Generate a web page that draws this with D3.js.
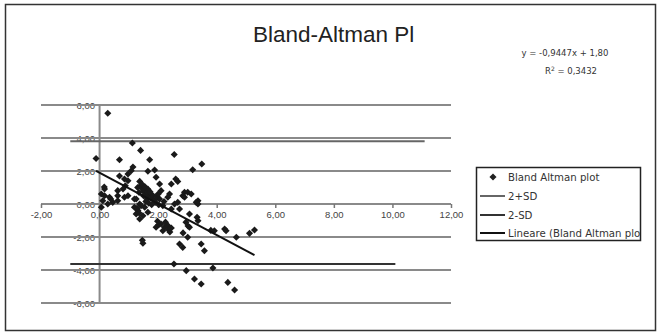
<!DOCTYPE html>
<html>
<head>
<meta charset="utf-8">
<script src="https://cdn.jsdelivr.net/npm/d3@7"></script>
<style>
  body { margin: 0; background: #fff; }
  svg { display: block; font-family: "DejaVu Sans", Arial, sans-serif; }
</style>
</head>
<body>
<div id="chart"></div>
<script>
// difference plot values: [mean, difference]
const points = [
  [0.28,5.50],[-0.12,2.76],[1.12,3.70],[1.40,3.25],[0.68,2.68],[1.71,2.68],[2.55,3.00],[3.49,2.42],[3.18,2.08],
  [1.14,2.24],[1.08,2.02],[0.97,1.82],[1.88,2.06],[1.65,1.98],[0.68,1.70],[0.85,1.52],[1.93,1.62],[2.05,1.21],
  [1.37,1.37],[2.67,1.37],[2.60,1.52],[2.45,1.21],[0.16,1.03],[0.88,1.11],
  [0.17,0.91],[0.62,0.81],[0.80,0.91],[0.34,0.41],[0.06,0.61],[2.90,0.71],[3.13,0.61],[2.39,0.61],[2.10,0.81],
  [3.01,0.71],[2.84,0.50],[3.36,0.20],[0.11,0.20],[0.85,0.41],[0.06,-0.20],[0.17,0.50],[0.28,0.00],[0.45,0.10],
  [0.62,0.50],[0.97,1.41],[1.25,0.30],[1.37,0.00],[2.05,0.30],[2.16,-0.10],[3.30,0.10],[0.38,0.30],
  [0.62,0.20],[1.19,-0.20],[1.31,-0.40],[1.37,-0.91],[1.48,-0.71],[1.54,-0.20],[1.65,-0.50],[1.48,-2.38],[1.46,-2.20],
  [2.10,-1.21],[2.22,-1.41],[2.16,-1.62],[2.33,-1.31],[1.93,-1.41],[2.45,-0.30],[2.73,-0.30],[2.67,0.10],[2.56,0.00],
  [2.90,0.41],[2.73,-2.42],[2.84,-2.63],[3.01,-2.02],[3.07,-1.41],[3.47,-2.42],[2.54,-3.64],[2.96,-4.04],[3.24,-4.55],
  [3.47,-4.85],[3.36,-1.01],[3.07,-0.61],[1.19,0.30],[0.97,0.50],[2.33,0.41],[1.88,0.20],
  [3.36,0.00],[3.33,-0.81],[3.92,-1.62],[4.27,-1.52],[4.32,-1.62],[4.67,-2.02],[5.12,-1.78],[5.29,-1.58],[3.58,-2.83],
  [3.87,-3.88],[4.38,-4.75],[4.61,-5.21],[3.02,-1.33],[3.80,-1.60],
  [1.40,1.10],[1.45,0.95],[1.50,0.80],[1.55,0.70],[1.60,0.60],[1.65,0.90],[1.70,0.45],[1.75,0.35],[1.80,0.55],
  [1.85,0.25],[1.90,0.10],[1.45,1.20],[1.55,1.05],[1.62,0.30],[1.50,0.50],[1.35,0.70],[1.72,0.75],[1.95,0.45],
  [2.00,0.60],[1.30,1.00],[1.42,-0.10],[1.58,0.15],[1.68,0.05],[1.78,-0.05],[2.02,-0.05],[2.20,0.15],[1.25,-0.60],
  [1.35,-0.55],[1.28,-0.25],[2.25,-1.10],[2.35,-1.55],[2.40,-1.70],[2.02,-1.25],[1.98,-1.05],[2.45,-1.45],
  [2.95,-1.10],[2.85,-1.75]
];

// limits of agreement lines: [x, y]
const upperSD = [[-1.0, 3.80], [11.1, 3.80]];
const lowerSD = [[-1.0, -3.64], [10.1, -3.64]];

// linear trendline
const slope = -0.9447;
const intercept = 1.80;

const xTicks = [-2, 0, 2, 4, 6, 8, 10, 12];
const yTicks = [-6, -4, -2, 0, 2, 4, 6];
const legendLabels = ["Bland Altman plot", "2+SD", "2-SD", "Lineare (Bland Altman plot)"];

const W = 657, H = 332;
const fmt = v => d3.format(".2f")(v).replace(".", ",").replace("\u2212", "-");

const svg = d3.select("#chart").append("svg")
  .attr("width", W)
  .attr("height", H);

// chart area border
svg.append("rect")
  .attr("x", 5.5).attr("y", 4.5)
  .attr("width", 650).attr("height", 326)
  .attr("fill", "#fff")
  .attr("stroke", "#333")
  .attr("stroke-width", 1.5);

const x = d3.scaleLinear().domain([-2, 12]).range([41, 451]);
const y = d3.scaleLinear().domain([-6, 6]).range([303, 105]);

// y labels (drawn first so gridlines run through them like the original)
const yAxis = svg.append("g")
  .attr("transform", "translate(96,0)")
  .call(d3.axisLeft(y).tickValues(yTicks).tickSize(0).tickFormat(fmt));
yAxis.select(".domain").remove();
yAxis.selectAll("text").attr("fill", "#444").attr("font-size", 9.5).attr("dx", 2);

// horizontal gridlines
svg.append("g").selectAll("line")
  .data(yTicks)
  .join("line")
  .attr("x1", x(-2)).attr("x2", x(12))
  .attr("y1", d => y(d)).attr("y2", d => y(d))
  .attr("stroke", "#8a8a8a")
  .attr("stroke-width", 2.2);

// vertical axis at x = 0
svg.append("line")
  .attr("x1", x(0)).attr("x2", x(0))
  .attr("y1", y(6)).attr("y2", y(-6))
  .attr("stroke", "#8a8a8a")
  .attr("stroke-width", 2);

// x axis ticks + labels along y = 0
const xAxis = svg.append("g")
  .attr("transform", `translate(0,${y(0)})`)
  .call(d3.axisBottom(x).tickValues(xTicks).tickSize(4).tickPadding(3).tickFormat(fmt));
xAxis.select(".domain").remove();
xAxis.selectAll("line").attr("stroke", "#777").attr("stroke-width", 1.5);
xAxis.selectAll("text").attr("fill", "#444").attr("font-size", 9.5);

const line = d3.line().x(d => x(d[0])).y(d => y(d[1]));

svg.append("path").datum(upperSD)
  .attr("d", line).attr("fill", "none")
  .attr("stroke", "#666").attr("stroke-width", 2);

svg.append("path").datum(lowerSD)
  .attr("d", line).attr("fill", "none")
  .attr("stroke", "#333").attr("stroke-width", 2);

// points: square turned 45deg, like Excel's diamond marker
const diamond = d3.symbol().type(d3.symbolSquare).size(25);
svg.append("g").selectAll("path")
  .data(points)
  .join("path")
  .attr("d", diamond)
  .attr("transform", d => `translate(${x(d[0])},${y(d[1])}) rotate(45)`)
  .attr("fill", "#1a1a1a");

// trendline over data extent
const xExt = d3.extent(points, d => d[0]);
svg.append("path")
  .datum(xExt.map(v => [v, slope * v + intercept + 0.1]))
  .attr("d", line).attr("fill", "none")
  .attr("stroke", "#111").attr("stroke-width", 2);

// title
svg.append("text")
  .attr("x", 253).attr("y", 42)
  .attr("font-family", "'Liberation Sans', Arial, sans-serif")
  .attr("font-size", 22.5)
  .attr("fill", "#222")
  .text("Bland-Altman Pl");

// equation
svg.append("text")
  .attr("x", 565).attr("y", 56)
  .attr("text-anchor", "middle")
  .attr("font-size", 8.5).attr("fill", "#333")
  .text("y = -0,9447x + 1,80");
svg.append("text")
  .attr("x", 571).attr("y", 74)
  .attr("text-anchor", "middle")
  .attr("font-size", 8.5).attr("fill", "#333")
  .html("R<tspan dy='-3' font-size='6'>2</tspan><tspan dy='3'> = 0,3432</tspan>");

// legend
const lg = svg.append("g");
svg.append("clipPath").attr("id", "legclip")
  .append("rect").attr("x", 476).attr("y", 167).attr("width", 164).attr("height", 73);
lg.append("rect")
  .attr("x", 476.5).attr("y", 167.5)
  .attr("width", 164).attr("height", 73)
  .attr("fill", "#fff").attr("stroke", "#222").attr("stroke-width", 1.5);

const rowY = [177, 196, 215, 233];
const strokes = [null, "#666", "#333", "#111"];
const items = lg.append("g").attr("clip-path", "url(#legclip)")
  .selectAll("g").data(legendLabels).join("g")
  .attr("transform", (d, i) => `translate(0,${rowY[i]})`);

items.filter((d, i) => i === 0).append("path")
  .attr("d", diamond)
  .attr("transform", "translate(493,0) rotate(45)")
  .attr("fill", "#222");
items.filter((d, i) => i > 0).append("line")
  .attr("x1", 480).attr("x2", 505)
  .attr("stroke", (d, i) => strokes[i + 1])
  .attr("stroke-width", 2);
items.append("text")
  .attr("x", 508).attr("dy", "0.35em")
  .attr("font-size", 10.2).attr("fill", "#333")
  .text(d => d);
</script>
</body>
</html>
